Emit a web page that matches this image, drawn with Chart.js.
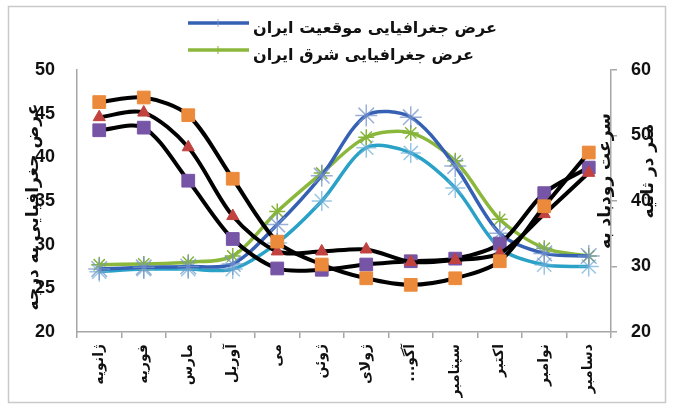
<!DOCTYPE html>
<html>
<head>
<meta charset="utf-8">
<script src="https://cdn.jsdelivr.net/npm/chart.js@4.4.1/dist/chart.umd.min.js"></script>
<style>
  html, body { margin: 0; padding: 0; background: #fff; }
</style>
</head>
<body>
<canvas id="jet" width="673" height="408"></canvas>
<script>
// months (x categories)
const months = ['ژانویه', 'فوریه', 'مارس', 'آوریل', 'می', 'ژوئن', 'ژولای', 'آگو...\u200F', 'سپتامبر', 'اکتبر', 'نوامبر', 'دسامبر']

// jet stream speed, m/s (right axis)
const speedOrange = [55.1, 55.8, 53.1, 43.4, 33.8, 30.3, 28.2, 27.2, 28.2, 30.8, 39.2, 47.4]
const speedRed = [52.8, 53.5, 48.2, 37.7, 32.3, 32.3, 32.6, 30.7, 31.0, 32.0, 38.0, 44.3]
const speedPurple = [50.8, 51.2, 43.1, 34.2, 29.7, 29.5, 30.3, 30.8, 31.2, 33.5, 41.2, 45.1]

// latitude, degrees (left axis)
const latIran = [27.2, 27.4, 27.5, 27.8, 32.3, 37.9, 44.8, 44.6, 39.0, 31.3, 29.0, 28.7]
const latEast = [27.7, 27.8, 28.0, 28.7, 33.8, 38.2, 42.3, 42.8, 39.6, 32.9, 29.6, 28.7]
const latWest = [26.9, 27.2, 27.2, 27.2, 30.2, 35.0, 41.1, 40.5, 36.5, 29.6, 27.7, 27.5]

const leftTicks = [20, 25, 30, 35, 40, 45, 50]
const rightTicks = [20, 30, 40, 50, 60]

const leftTitle = 'عرض جغرافیایی به درجه'
const rightTitle = ['سرعت رودباد به', 'متر در ثانیه']
const legendNames = ['عرض جغرافیایی موقعیت ایران', 'عرض جغرافیایی شرق ایران']

const numFont = { family: '"Liberation Sans", Arial', size: 18, weight: 'bold' }
const faFont = '"DejaVu Sans", sans-serif'

const speedLine = (data, color, style, radius) => ({
  data,
  yAxisID: 'y1',
  borderColor: '#000',
  borderWidth: 4,
  tension: 0.3,
  pointStyle: style,
  pointRadius: radius,
  pointHoverRadius: radius,
  pointBackgroundColor: color,
  pointBorderColor: color,
  pointBorderWidth: 1,
})

const latLine = (data, color, starColor, radius, label) => ({
  label,
  data,
  yAxisID: 'y',
  borderColor: color,
  borderWidth: 3.5,
  tension: 0.3,
  pointStyle: 'star',
  pointRadius: radius,
  pointHoverRadius: radius,
  pointBorderColor: starColor,
  pointBackgroundColor: starColor,
  pointBorderWidth: 1.5,
})

const decor = {
  id: 'decor',
  beforeDraw(chart) {
    const ctx = chart.ctx
    ctx.save()
    ctx.fillStyle = '#fff'
    ctx.fillRect(0, 0, chart.width, chart.height)
    ctx.strokeStyle = '#c9c9c9'
    ctx.lineWidth = 1.5
    ctx.strokeRect(8.5, 6.5, chart.width - 16, chart.height - 12)
    ctx.restore()
  },
  afterDraw(chart) {
    const ctx = chart.ctx
    const area = chart.chartArea
    ctx.save()
    ctx.fillStyle = '#111'
    ctx.textBaseline = 'middle'

    // legend, stacked
    const shown = chart.data.datasets.filter(d => d.label)
    shown.forEach((d, i) => {
      const y = 23 + i * 27
      ctx.strokeStyle = d.borderColor
      ctx.lineWidth = 3.5
      ctx.beginPath()
      ctx.moveTo(188, y)
      ctx.lineTo(249, y)
      ctx.stroke()
      ctx.strokeStyle = d.pointBorderColor
      ctx.lineWidth = 1
      ctx.beginPath()
      ctx.moveTo(218, y - 4)
      ctx.lineTo(218, y + 4)
      ctx.stroke()
      ctx.font = 'bold 16px ' + faFont
      ctx.textAlign = 'left'
      ctx.fillText(d.label, 253, y + 6)
    })

    // axis titles, rotated and laid over the tick labels
    ctx.font = 'bold 17px ' + faFont
    ctx.textAlign = 'center'
    ctx.save()
    ctx.translate(34, (area.top + area.bottom) / 2 + 6)
    ctx.rotate(-Math.PI / 2)
    ctx.fillText(leftTitle, 0, 0)
    ctx.restore()

    ctx.save()
    ctx.translate(area.right + 22, (area.top + area.bottom) / 2 - 20)
    ctx.rotate(-Math.PI / 2)
    ctx.fillText(rightTitle[0], 0, -27)
    ctx.fillText(rightTitle[1], 10, 16)
    ctx.restore()

    ctx.restore()
  },
}

new Chart(document.getElementById('jet'), {
  type: 'line',
  data: {
    labels: months,
    datasets: [
      speedLine(speedOrange, '#ec8a3c', 'rect', 9),
      speedLine(speedRed, '#c2423f', 'triangle', 7),
      speedLine(speedPurple, '#7654a6', 'rect', 9),
      latLine(latIran, '#3560b4', 'rgba(120,150,205,0.75)', 11, legendNames[0]),
      latLine(latEast, '#8bb83c', '#86b43a', 8, legendNames[1]),
      latLine(latWest, '#2aa2c8', 'rgba(110,175,215,0.7)', 10),
    ],
  },
  options: {
    responsive: false,
    animation: false,
    layout: { padding: { top: 70, right: 0, left: 0, bottom: 0 } },
    plugins: {
      legend: { display: false },
      tooltip: { enabled: false },
    },
    scales: {
      x: {
        offset: true,
        grid: { display: true, drawOnChartArea: false, offset: true, tickLength: 6, color: '#a6a6a6', lineWidth: 1.5 },
        border: { color: '#a6a6a6', width: 1.5 },
        ticks: {
          autoSkip: false,
          minRotation: 90,
          maxRotation: 90,
          padding: 6,
          color: '#111',
          font: { family: 'DejaVu Sans', size: 14, weight: 'bold' },
        },
        afterFit: s => { s.height = 76 },
      },
      y: {
        position: 'left',
        min: 20,
        max: 50,
        afterBuildTicks: s => { s.ticks = leftTicks.map(v => ({ value: v })) },
        grid: { drawOnChartArea: false, drawTicks: false },
        border: { color: '#a6a6a6', width: 1.5 },
        ticks: { padding: 22, color: '#111', font: numFont },
        afterFit: s => { s.width = 77 },
      },
      y1: {
        position: 'right',
        min: 20,
        max: 60,
        afterBuildTicks: s => { s.ticks = rightTicks.map(v => ({ value: v })) },
        grid: { drawOnChartArea: false, tickLength: 6, color: '#a6a6a6', lineWidth: 1.5 },
        border: { color: '#a6a6a6', width: 1.5 },
        ticks: { padding: 14, color: '#111', font: numFont },
        afterFit: s => { s.width = 62 },
      },
    },
  },
  plugins: [decor],
})
</script>
</body>
</html>
